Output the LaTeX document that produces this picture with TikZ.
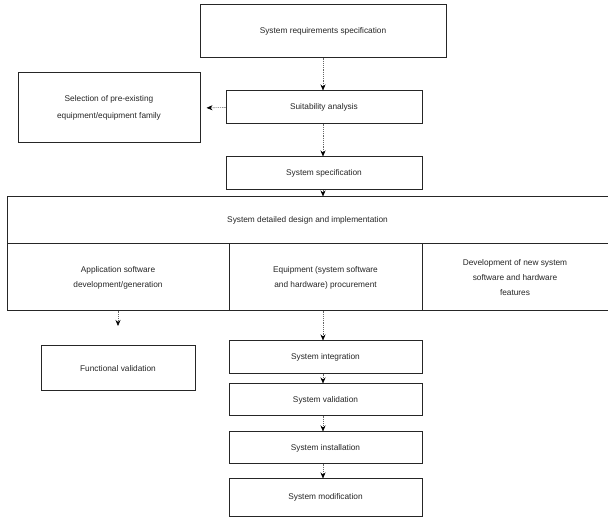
\documentclass[tikz,border=0pt]{standalone}
\usepackage{fontspec}
\setmainfont{Liberation Sans}
\usetikzlibrary{arrows.meta}
\begin{document}
\begin{tikzpicture}[x=1pt,y=-1pt,
  box/.style={draw=black!85,line width=1pt,fill=white,inner sep=2pt,align=center,
    font=\fontsize{8.3}{15}\selectfont,text=black!85},
  flow/.style={draw=black!60,line width=0.6pt,dash pattern=on 1.2pt off 1pt,
    -{Stealth[length=6pt,width=5pt,black]}}
]
\useasboundingbox (0,0) rectangle (608,518);
% boxes
\node[box,minimum width=246pt,minimum height=53pt] (req) at (323,31.5) {System requirements specification};
\node[box,minimum width=182pt,minimum height=70pt,font=\fontsize{8.3}{17}\selectfont] (sel) at (109,108) {Selection of pre-existing\\equipment/equipment family};
\node[box,minimum width=196pt,minimum height=33pt] (suit) at (324,107.5) {Suitability analysis};
\node[box,minimum width=196pt,minimum height=33pt] (spec) at (324,173.5) {System specification};
\node[box,minimum width=601pt,minimum height=47pt] (design) at (307.5,220.5) {System detailed design and implementation};
\node[box,minimum width=222pt,minimum height=67pt] (app) at (118,277.5) {Application software\\development/generation};
\node[box,minimum width=193pt,minimum height=67pt] (equip) at (325.5,277.5) {Equipment (system software\\and hardware) procurement};
\node[box,minimum width=186pt,minimum height=67pt] (dev) at (515,277.5) {Development of new system\\software and hardware\\features};
\node[box,minimum width=154pt,minimum height=45pt] (func) at (118,368.5) {Functional validation};
\node[box,minimum width=193pt,minimum height=33pt] (integ) at (325.5,357.5) {System integration};
\node[box,minimum width=193pt,minimum height=32pt] (valid) at (325.5,400) {System validation};
\node[box,minimum width=193pt,minimum height=32pt] (inst) at (325.5,448) {System installation};
\node[box,minimum width=193pt,minimum height=37pt] (mod) at (325.5,497.5) {System modification};
\coordinate (append) at (118,326);
% connectors
\draw[flow] (req.south -| 323,0) -- (suit.north -| 323,0);
\draw[flow,shorten >=6pt] (suit.west) -- (sel.east);
\draw[flow] (suit.south -| 323,0) -- (spec.north -| 323,0);
\draw[flow] (spec.south -| 323,0) -- (design.north -| 323,0);
\draw[flow] (app.south) -- (append);
\draw[flow] (equip.south -| 323,0) -- (integ.north -| 323,0);
\draw[flow] (integ.south -| 323,0) -- (valid.north -| 323,0);
\draw[flow] (valid.south -| 323,0) -- (inst.north -| 323,0);
\draw[flow] (inst.south -| 323,0) -- (mod.north -| 323,0);
\end{tikzpicture}
\end{document}
